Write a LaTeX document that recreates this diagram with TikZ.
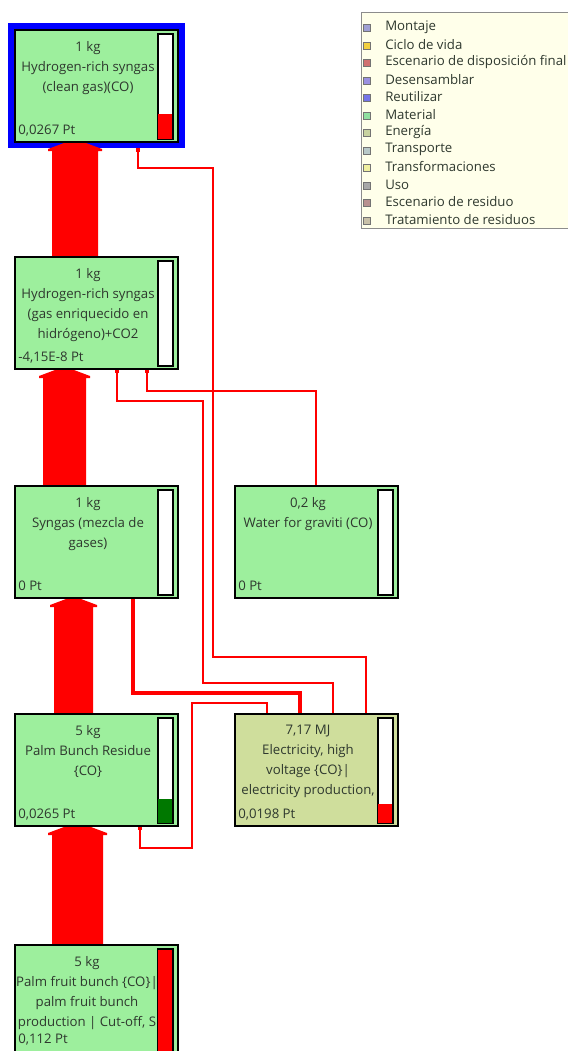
\documentclass[tikz,border=0pt]{standalone}
\usepackage{fontspec}
\setmainfont{Open Sans}
\usepackage{tikz}
\usetikzlibrary{positioning, calc, arrows.meta, backgrounds}

\definecolor{flowred}{HTML}{FF0000}
\definecolor{matgreen}{HTML}{9DEF9D}
\definecolor{enggreen}{HTML}{CFDE9C}
\definecolor{txtgray}{HTML}{2E382E}
\definecolor{scoregreen}{HTML}{007800}
\definecolor{legcream}{HTML}{FFFFEA}
\definecolor{lgmont}{HTML}{A0A0D4}
\definecolor{lgciclo}{HTML}{F2D040}
\definecolor{lgdisp}{HTML}{D07070}
\definecolor{lgdes}{HTML}{9A90E0}
\definecolor{lgreut}{HTML}{7474E8}
\definecolor{lgmat}{HTML}{90E0A0}
\definecolor{lgener}{HTML}{C8D2A0}
\definecolor{lgtrans}{HTML}{B8C8C8}
\definecolor{lgtransf}{HTML}{F0F0A0}
\definecolor{lguso}{HTML}{A8A8A8}
\definecolor{lgresid}{HTML}{B89090}
\definecolor{lgtrat}{HTML}{C8C0A8}

% wide flow band with its cap under the receiving box
\newcommand\flowband[4]{%
  \fill[flowred] ($(#1.north west)+(#3,0)$)
    -- ($(#2.south west)+(#3,9)$) -- ($(#2.south west)+(#3-4,9)$) -- ($(#2.south west)+(#3-4,7)$)
    -- ($(#2.south west)+(#3+4,4)$) -- ($(#2.south west)+(#3+12,1)$)
    -- ($(#2.south west)+(#4-12,1)$) -- ($(#2.south west)+(#4-4,4)$)
    -- ($(#2.south west)+(#4+4,7)$) -- ($(#2.south west)+(#4+4,9)$)
    -- ($(#2.south west)+(#4,9)$) -- ($(#1.north west)+(#4,0)$) -- cycle;}

\begin{document}
\begin{tikzpicture}[x=0.25mm, y=-0.25mm, node distance=29mm]
    % Styles
    \tikzset{
      procbox/.style={rectangle, draw=black, line width=1.4pt, fill=matgreen, minimum width=40.75mm, minimum height=28mm, inner sep=0pt, outer sep=0pt},
      boxtext/.style={anchor=north, align=center, inner sep=0pt, text=txtgray, font=\fontsize{9.4}{14.2}\selectfont},
      score/.style={anchor=base west, inner sep=0pt, text=txtgray, font=\fontsize{9.4}{11}\selectfont},
      barcell/.style={rectangle, draw=black, line width=1pt, fill=white, minimum width=3.5mm, minimum height=26mm, inner sep=0pt, anchor=north east},
      thinflow/.style={draw=flowred, line width=1pt, -{Square[length=3pt,width=3.5pt]}},
      thickflow/.style={draw=flowred, line width=2.8pt, -{Square[length=3pt,width=2.5pt]}},
      legendbox/.style={rectangle, draw=black!45, fill=legcream, minimum width=60mm, minimum height=54mm, inner sep=0pt, anchor=north west},
      legtext/.style={anchor=west, inner sep=0pt, text=txtgray, font=\fontsize{9.4}{11}\selectfont}
    }

    \useasboundingbox (0,0) rectangle (568,1051);
    \clip (0,0) rectangle (568,1051);

    % Nodes
    \node [procbox, anchor=north west] (clean) at (15,30) {};
    \node [procbox, below=28.75mm of clean] (mid) {};
    \node [procbox, below=29.25mm of mid] (syngas) {};
    \node [procbox, right=14.25mm of syngas] (water) {};
    \node [procbox, below=29mm of syngas] (palm) {};
    \node [procbox, fill=enggreen, right=14.25mm of palm] (elec) {};
    \node [procbox, below=29.75mm of palm] (fruit) {};

    \node [boxtext] at ($(clean.north west)+(73,11)$) {1 kg\\Hydrogen-rich syngas\\(clean gas)(CO)};
    \node [boxtext] at ($(mid.north west)+(73,11)$) {1 kg\\Hydrogen-rich syngas\\(gas enriquecido en\\hidrógeno)+CO2};
    \node [boxtext] at ($(syngas.north west)+(73,11)$) {1 kg\\Syngas (mezcla de\\gases)};
    \node [boxtext] at ($(water.north west)+(73,11)$) {0,2 kg\\Water for graviti (CO)};
    \node [boxtext] at ($(palm.north west)+(73,11)$) {5 kg\\Palm Bunch Residue\\\{CO\}};
    \node [boxtext] at ($(elec.north west)+(73,11)$) {7,17 MJ\\Electricity, high\\voltage \{CO\}|\\electricity production,};
    \node [boxtext] at ($(fruit.north west)+(72,11)$) {5 kg\\Palm fruit bunch \{CO\}|\\palm fruit bunch\\production | Cut-off, S};

    \node [score] at ($(clean.south west)+(3,-8)$) {0,0267 Pt};
    \node [score] at ($(mid.south west)+(3,-8)$) {-4,15E-8 Pt};
    \node [score] at ($(syngas.south west)+(3,-8)$) {0 Pt};
    \node [score] at ($(water.south west)+(3,-8)$) {0 Pt};
    \node [score] at ($(palm.south west)+(3,-8)$) {0,0265 Pt};
    \node [score] at ($(elec.south west)+(3,-8)$) {0,0198 Pt};
    \node [score] at ($(fruit.south west)+(3,-14)$) {0,112 Pt};

    % Score bars
    \foreach \bx/\lvl/\col in {clean/25/flowred, mid/0/flowred, syngas/0/flowred, water/0/flowred,
                               palm/24/scoregreen, elec/19/flowred, fruit/104/flowred} {
      \node [barcell] (\bx bar) at ($(\bx.north east)+(-5,4)$) {};
      \fill [\col] (\bx bar.south west) rectangle ($(\bx bar.south east)+(0,-\lvl)$);
      \draw [line width=1pt] (\bx bar.south west) rectangle (\bx bar.north east);
    }

    % Legend
    \node [legendbox] (legend) at (361,12) {};
    \foreach \lab/\col [count=\i from 0] in {Montaje/lgmont, Ciclo de vida/lgciclo,
        Escenario de disposición final/lgdisp, Desensamblar/lgdes, Reutilizar/lgreut,
        Material/lgmat, Energía/lgener, Transporte/lgtrans, Transformaciones/lgtransf,
        Uso/lguso, Escenario de residuo/lgresid, Tratamiento de residuos/lgtrat} {
      \filldraw [draw=black!55, fill=\col] ($(legend.north west)+(2,12.5+\i*17.5)$) rectangle ++(7,7);
      \node [legtext] at ($(legend.north west)+(24,15+\i*17.5)$) {\lab};
    }

    % Flows
    \begin{pgfonlayer}{background}
      \fill [white] (0,0) rectangle (568,1051);
      \fill [blue] ($(clean.north west)+(-7,-7)$) rectangle ($(clean.south east)+(7,6)$);
      \flowband{fruit}{palm}{37}{88}
      \flowband{palm}{syngas}{39}{78}
      \flowband{syngas}{mid}{28}{71}
      \flowband{mid}{clean}{37}{83}
      \draw [thinflow] ($(elec.north west)+(131,0)$) |- ++(-153,-57) |- ($(clean.south west)+(123,26)$) -- ($(clean.south west)+(123,6)$);
      \draw [thinflow] ($(elec.north west)+(98,0)$) |- ++(-130,-31) |- ($(mid.south west)+(102,32)$) -- ($(mid.south west)+(102,0)$);
      \draw [thinflow] ($(water.north west)+(81,0)$) |- ($(mid.south west)+(132,22)$) -- ($(mid.south west)+(132,0)$);
      \draw [thickflow] ($(elec.north west)+(65,0)$) |- ($(syngas.south west)+(118,95)$) -- ($(syngas.south west)+(118,0)$);
      \draw [thinflow] ($(elec.north west)+(32,0)$) |- ++(-75,-11) |- ($(palm.south west)+(125,22)$) -- ($(palm.south west)+(125,0)$);
    \end{pgfonlayer}
\end{tikzpicture}
\end{document}
